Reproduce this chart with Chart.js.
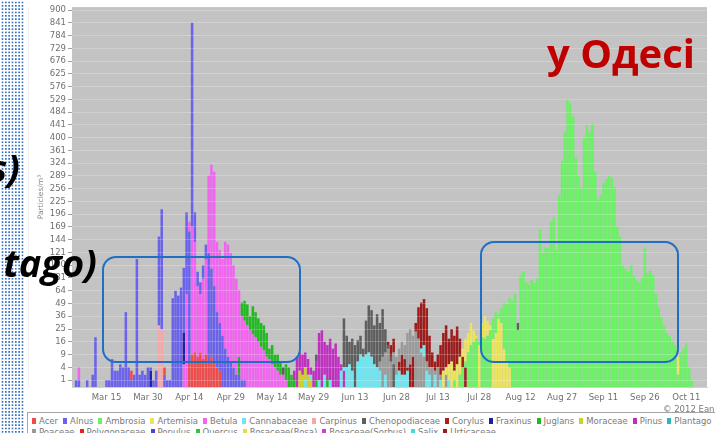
<!DOCTYPE html>
<html>
<head>
<meta charset="utf-8">
<script src="https://cdn.jsdelivr.net/npm/chart.js@4.4.0/dist/chart.umd.min.js"></script>
<style>
  html, body { margin: 0; padding: 0; background: #fff; }
  body { position: relative; width: 715px; height: 433px; overflow: hidden; font-family: "DejaVu Sans", sans-serif; }
  #chartBox { position: absolute; left: 28px; top: 0; width: 690px; height: 405px; }
  #legend { position: absolute; left: 27px; top: 412px; width: 730px; height: 40px; box-sizing: border-box;
            border-top: 1.5px solid #a6a6a6; border-left: 1.5px solid #a6a6a6; padding: 3px 0 0 4px;
            font-size: 8.5px; line-height: 11px; color: #7a7a7a; background: #fff; }
  .row { white-space: nowrap; height: 11px; }
  .item { display: inline-block; margin-right: 5px; }
  .sw { display: inline-block; width: 4px; height: 6px; margin-right: 3px; }
  #copy { position: absolute; left: 663px; top: 404px; font-size: 8.5px; line-height: 10px; color: #7a7a7a; white-space: nowrap; }
  #dots { position: absolute; left: 0; top: 0; width: 25px; height: 433px; background-color: #3470c0;
          background-image: linear-gradient(to right, #fff 0 1.55px, transparent 1.55px),
                            linear-gradient(to bottom, #fff 0 1.55px, transparent 1.55px);
          background-size: 3.33px 3.33px; }
  .slide { position: absolute; font-family: "Open Sans", sans-serif; font-weight: 700; white-space: nowrap; line-height: 1; }
  .frame { position: absolute; border: 2px solid #1f6fc4; border-radius: 14px; box-sizing: border-box; }
</style>
</head>
<body>
<div id="chartBox"><canvas id="pollen"></canvas></div>
<div id="copy">© 2012 Ean</div>
<div id="legend"></div>
<div id="dots"></div>
<div class="slide" style="right:695px; top:148px; font-size:38px; font-style:italic; color:#000;">s)</div>
<div class="slide" style="right:618px; top:243px; font-size:38px; font-style:italic; color:#000;">tago)</div>
<div class="slide" style="left:547px; top:33px; font-size:40px; color:#c00000;">у Одесі</div>
<div class="frame" style="left:102px; top:256px; width:199px; height:107px;"></div>
<div class="frame" style="left:480px; top:241px; width:199px; height:122px;"></div>

<script>
// Season: one category per day, 3 March to 18 October 2012
const seasonStart = [2012, 2, 3];
const seasonLength = 230;
const monthNames = ['Jan','Feb','Mar','Apr','May','Jun','Jul','Aug','Sep','Oct','Nov','Dec'];

// Dates that carry an x-axis label
const tickDates = ['Mar 15','Mar 30','Apr 14','Apr 29','May 14','May 29','Jun 13','Jun 28',
                   'Jul 13','Jul 28','Aug 12','Aug 27','Sep 11','Sep 26','Oct 11'];

// Square-root axis ticks (particles/m³)
const yTicks = [1,4,9,16,25,36,49,64,81,100,121,144,169,196,225,256,289,324,361,400,
                441,484,529,576,625,676,729,784,841,900];

// Daily counts, particles/m³: runs of [first date, consecutive daily values]
const acer = [['Mar 24',[3]], ['Apr 5',[4]], ['Apr 14',[6,9,10,8,10,7,9,6,8,5,4,3]]];
const alnus = [['Mar 4',[1,1,0,0,1,0,2,19,0,0, 0,1,1,7,3,3,5,4,40,4, 1,2,110,2,3,2,4,4,1,3,
                         150,207,2,1,1,55,64,58,68,96, 200,160,841,200,90,75,100,135,120,95,
                         70,40,30,20,12,8,6,4,2,2, 1,1]]];
const ambrosia = [['Jul 19',[1,0,2,4,6,10,14,16,18,16, 19,18,20,24,34,40,38,44,50,48,
                            55,52,60,24,85,90,75,72,78,74, 80,165,120,130,128,180,190,125,240,330,
                            420,529,515,470,340,290,260,400,440,420, 445,300,230,240,270,280,290,285,260,170,
                            150,100,95,90,100,85,78,75,82,130, 88,92,85,60,45,35,28,22,20,16,
                            14,2,10,12,15,4,1]]];
const artemisia = [['Jul 15',[3,4,5,6,3,5,8,12,18,22,30,24,20,14,30,36,32,28,18,22,34,30,12,6,4]], ['Oct 8',[8]]];
const betula = [['Mar 5',[4]], ['Apr 12',[5,60,180,170,140,70,60,80,110,290, 320,300,140,125,110,140,135,120,100,80,
                                         65,36,32,28,24,21,19,16,13,11, 8,7,5,4,3,2,2,1]]];
const cannabaceae = [['May 26',[1,0,2,0,0,1,0,2,0,1]],
                     ['Jun 8',[3,4,4,5,3,0,6,9,8,9,10,8,5,4,3,0,2]],
                     ['Jun 28',[2,3,2,2,3,0,0,0,0,12,14,3,2,0,2,0,1,0,0,1]]];
const carpinus = [['Apr 3',[28,25]]];
const chenopodiaceae = [['May 18',[4]], ['May 30',[9]],
                        ['Jun 9',[34,20,16,18,14,17,20,12,32,47,42,28,38,30,43,25,14,8,5]],
                        ['Aug 11',[30]]];
const fraxinus = [['Mar 31',[3]], ['Apr 12',[22]]];
const juglans = [['May 2',[8,50,52,48,36,46,40,34,30,28,22,12,14,9,9,6,4,5,4,2,1,0,0,0,1,0,2,0,1,0,0,0,1]]];
const moraceae = [['May 24',[3,2,4,2,1]]];
const pinus = [['May 22',[3,8,10,9,10,7,4,3,6,22,24,16,14,18,12,15,8,5,3]]];
const poaceae = [['Jun 22',[6,8,10,12,6,10,8,12,16,14,22,25,20,23,18,10,8,6,4,4,3,4,2,3,2]]];
const urticaceae = [['Jun 24',[10,16,14,18,8,6,9,7,4,5,8,30,45,50,54,44,20,10,6,9,14,22,28,18,25,20,27,18,8,4]]];

// Taxa as listed in the legend, with their colours and series
const taxa = ['Acer','Alnus','Ambrosia','Artemisia','Betula','Cannabaceae','Carpinus','Chenopodiaceae',
              'Corylus','Fraxinus','Juglans','Moraceae','Pinus','Plantago',
              'Poaceae','Polygonaceae','Populus','Quercus','Rosaceae(Rosa)','Rosaceae(Sorbus)','Salix','Urticaceae'];
const taxonColors = ['#f04a4a','#6a62ec','#6cf066','#ece45c','#f064f0','#6ce6f0','#f6a8a8','#5e5e5e',
                     '#a82020','#20209c','#22b822','#cfcf2c','#c030c0','#30b4c0',
                     '#9a9a9a','#e82020','#4848d8','#30c830','#e0e040','#d040d0','#40dce0','#9c1c1c'];
const taxonSeries = [acer, alnus, ambrosia, artemisia, betula, cannabaceae, carpinus, chenopodiaceae,
                     null, fraxinus, juglans, moraceae, pinus, null,
                     poaceae, null, null, null, null, null, null, urticaceae];
const legendRowLength = 14;

// ---- categories
const days = [];
for (let i = 0; i < seasonLength; i++) {
  const d = new Date(seasonStart[0], seasonStart[1], seasonStart[2] + i);
  days.push(monthNames[d.getMonth()] + ' ' + d.getDate());
}

function expand(runs) {
  const out = new Array(days.length).fill(0);
  runs.forEach(([start, vals]) => {
    const i0 = days.indexOf(start);
    vals.forEach((v, k) => { out[i0 + k] = v; });
  });
  return out;
}

// ---- square-root value axis
class SqrtScale extends Chart.Scale {
  static id = 'sqrt';
  static defaults = {};
  determineDataLimits() { this.min = this.options.min; this.max = this.options.max; }
  buildTicks() { return yTicks.map(v => ({ value: v })); }
  getLabelForValue(v) { return String(v); }
  configure() {
    super.configure();
    this._s0 = Math.sqrt(this.min);
    this._sr = Math.sqrt(this.max) - this._s0;
  }
  getPixelForValue(v) {
    if (v === undefined || v === null) v = this.min;
    return this.getPixelForDecimal((Math.sqrt(Math.max(v, 0)) - this._s0) / this._sr);
  }
  getValueForPixel(p) {
    const s = this._s0 + this.getDecimalForPixel(p) * this._sr;
    return s * s;
  }
}
Chart.register(SqrtScale);

const Y_MIN = 0.209, Y_MAX = 913.9;

// Bars of all taxa share a day; the smaller count is shown in front,
// so each taxon is drawn as the band between the next smaller count and its own.
const plotted = taxonSeries.map((s, k) => s ? k : -1).filter(k => k >= 0);
const full = plotted.map(k => expand(taxonSeries[k]));
const bands = full.map(() => new Array(days.length).fill(null));
for (let i = 0; i < days.length; i++) {
  const here = full.map((arr, j) => ({ j, v: arr[i] })).filter(o => o.v > 0)
                   .sort((a, b) => a.v - b.v || a.j - b.j);
  let lower = Y_MIN;
  here.forEach(o => { bands[o.j][i] = [lower, o.v]; lower = Math.max(lower, o.v); });
}

const datasets = plotted.map((k, j) => ({
  label: taxa[k],
  data: bands[j],
  backgroundColor: taxonColors[k],
  borderWidth: 0,
  barPercentage: 0.92,
  categoryPercentage: 1.0,
  grouped: false
}));

const plotBackground = {
  id: 'plotBackground',
  beforeDraw(chart) {
    const { ctx, chartArea: a } = chart;
    ctx.save();
    ctx.fillStyle = '#c3c3c3';
    ctx.fillRect(a.left, a.top, a.width, a.height);
    ctx.restore();
  }
};

const axisFont = { family: 'DejaVu Sans', size: 8.5 };

new Chart(document.getElementById('pollen'), {
  type: 'bar',
  data: { labels: days, datasets },
  options: {
    responsive: true,
    maintainAspectRatio: false,
    animation: false,
    devicePixelRatio: 1,
    layout: { padding: { top: 3, right: 11, bottom: 0, left: 0 } },
    plugins: { legend: { display: false }, tooltip: { enabled: false } },
    scales: {
      x: {
        type: 'category',
        offset: true,
        grid: { display: false, drawTicks: false },
        border: { display: true, color: '#d2d2d2' },
        ticks: {
          autoSkip: false, maxRotation: 0, minRotation: 0, padding: 6,
          color: '#707070', font: axisFont,
          callback(v) { const l = this.getLabelForValue(v); return tickDates.includes(l) ? l : ''; }
        },
        afterFit(s) { s.height = 18; }
      },
      y: {
        type: 'sqrt',
        position: 'left',
        min: Y_MIN,
        max: Y_MAX,
        grid: { color: 'rgba(255,255,255,0.22)', z: 1, drawTicks: true, tickLength: 4, tickColor: '#a0a0a0' },
        border: { display: true, color: '#e4e4e4' },
        ticks: { autoSkip: false, padding: 2, color: '#707070', font: axisFont },
        title: { display: true, text: 'Particles/m³', color: '#888', font: { family: 'DejaVu Sans', size: 7.5 },
                 padding: { top: 9, bottom: 0 } },
        afterFit(s) { s.width = 44; }
      }
    }
  },
  plugins: [plotBackground]
});

// ---- legend
const legend = document.getElementById('legend');
for (let r = 0; r < taxa.length; r += legendRowLength) {
  const row = document.createElement('div');
  row.className = 'row';
  taxa.slice(r, r + legendRowLength).forEach((name, j) => {
    const item = document.createElement('span');
    item.className = 'item';
    const sw = document.createElement('span');
    sw.className = 'sw';
    sw.style.background = taxonColors[r + j];
    item.appendChild(sw);
    item.appendChild(document.createTextNode(name));
    row.appendChild(item);
  });
  legend.appendChild(row);
}
</script>
</body>
</html>
